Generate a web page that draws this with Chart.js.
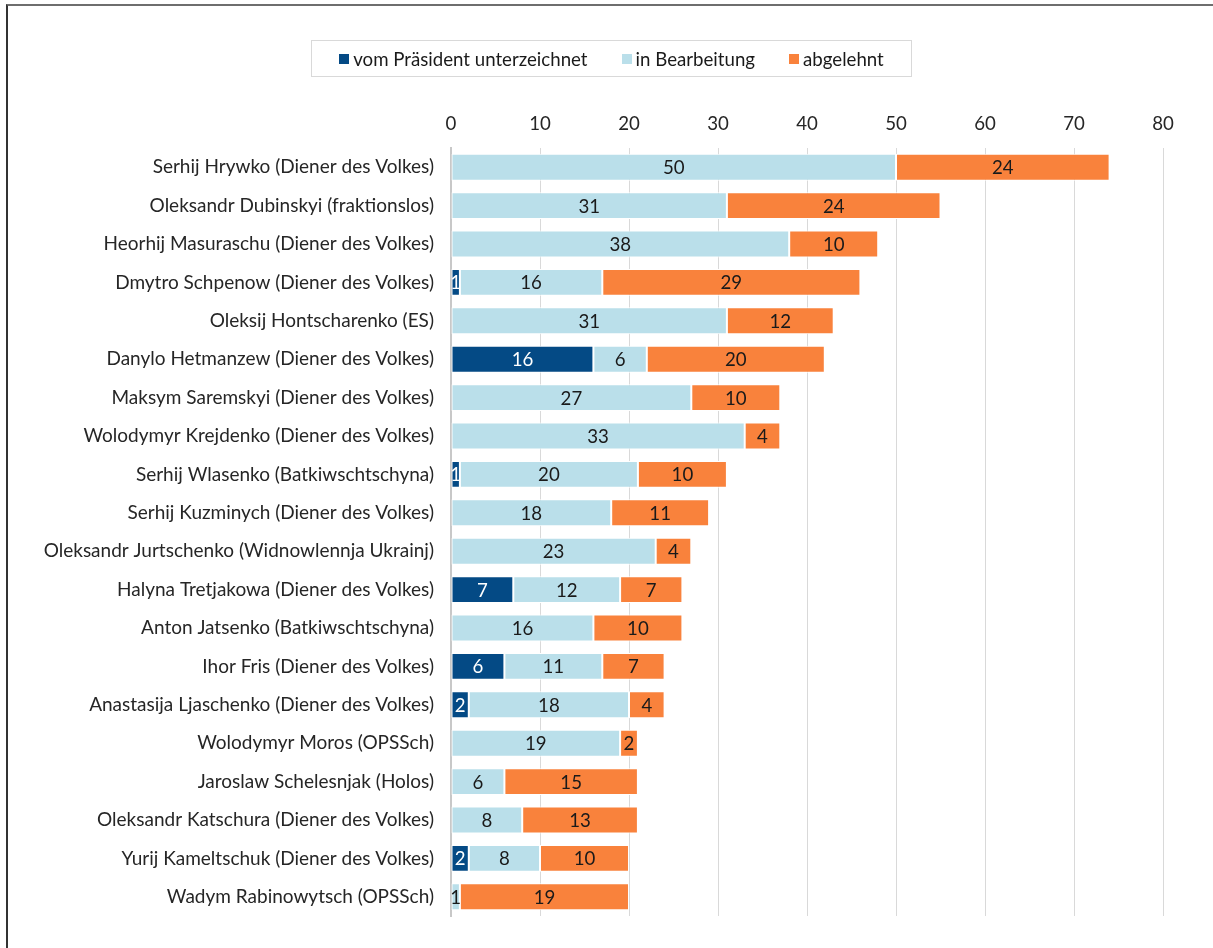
<!DOCTYPE html>
<html>
<head>
<meta charset="utf-8">
<script src="https://cdn.jsdelivr.net/npm/chart.js@4/dist/chart.umd.min.js"></script>
<style>
  html, body { margin: 0; padding: 0; background: #fff; }
  #wrap { position: relative; width: 1213px; height: 948px; }
  #frame { position: absolute; left: 6px; top: 4px; right: -10px; bottom: -10px;
           border-top: 2px solid #6e6e6e; border-left: 2px solid #333; pointer-events: none; }
  #legend { position: absolute; left: 311px; top: 40px; width: 599px; height: 35px;
            border: 1px solid #d9d9d9; display: flex; align-items: center; justify-content: center;
            font-family: Lato, sans-serif; font-size: 18.67px; color: #1a1a1a; }
  .item { display: flex; align-items: center; margin: 0 17px; }
  .sw { width: 10px; height: 10px; margin-right: 4px; }
</style>
</head>
<body>
<div id="wrap">
  <canvas id="c" width="1213" height="948"></canvas>
  <div id="legend"></div>
  <div id="frame"></div>
</div>
<script>
const categories = [
  "Serhij Hrywko (Diener des Volkes)",
  "Oleksandr Dubinskyi (fraktionslos)",
  "Heorhij Masuraschu (Diener des Volkes)",
  "Dmytro Schpenow (Diener des Volkes)",
  "Oleksij Hontscharenko (ES)",
  "Danylo Hetmanzew (Diener des Volkes)",
  "Maksym Saremskyi (Diener des Volkes)",
  "Wolodymyr Krejdenko (Diener des Volkes)",
  "Serhij Wlasenko (Batkiwschtschyna)",
  "Serhij Kuzminych (Diener des Volkes)",
  "Oleksandr Jurtschenko (Widnowlennja Ukrainj)",
  "Halyna Tretjakowa (Diener des Volkes)",
  "Anton Jatsenko (Batkiwschtschyna)",
  "Ihor Fris (Diener des Volkes)",
  "Anastasija Ljaschenko (Diener des Volkes)",
  "Wolodymyr Moros (OPSSch)",
  "Jaroslaw Schelesnjak (Holos)",
  "Oleksandr Katschura (Diener des Volkes)",
  "Yurij Kameltschuk (Diener des Volkes)",
  "Wadym Rabinowytsch (OPSSch)"
];
const signed     = [0, 0, 0, 1, 0, 16, 0, 0, 1, 0, 0, 7, 0, 6, 2, 0, 0, 0, 2, 0];
const inProgress = [50, 31, 38, 16, 31, 6, 27, 33, 20, 18, 23, 12, 16, 11, 18, 19, 6, 8, 8, 1];
const rejected   = [24, 24, 10, 29, 12, 20, 10, 4, 10, 11, 4, 7, 10, 7, 4, 2, 15, 13, 10, 19];
const seriesNames = ["vom Präsident unterzeichnet", "in Bearbeitung", "abgelehnt"];
const xTicks = [0, 10, 20, 30, 40, 50, 60, 70, 80];

const colors = ["#044a85", "#badfea", "#f9823c"];
const labelColors = ["#ffffff", "#1a1a1a", "#1a1a1a"];
const FONT = "Lato, sans-serif";
const FS = 18.67;

const legendEl = document.getElementById('legend');
seriesNames.forEach((n, i) => {
  const it = document.createElement('div');
  it.className = 'item';
  it.innerHTML = '<span class="sw" style="background:' + colors[i] + '"></span><span>' + n + '</span>';
  legendEl.appendChild(it);
});

const valueLabels = {
  id: 'valueLabels',
  afterDatasetsDraw(chart) {
    const ctx = chart.ctx;
    ctx.save();
    ctx.font = FS + 'px ' + FONT;
    ctx.textAlign = 'center';
    ctx.textBaseline = 'middle';
    chart.data.datasets.forEach((ds, di) => {
      const meta = chart.getDatasetMeta(di);
      meta.data.forEach((el, i) => {
        const v = ds.data[i];
        if (!v) return;
        ctx.fillStyle = labelColors[di];
        ctx.fillText(String(v), (el.x + el.base) / 2, el.y + 1);
      });
    });
    ctx.restore();
  }
};

new Chart(document.getElementById('c'), {
  type: 'bar',
  data: {
    labels: categories,
    datasets: [
      { label: seriesNames[0], data: signed, backgroundColor: colors[0] },
      { label: seriesNames[1], data: inProgress, backgroundColor: colors[1] },
      { label: seriesNames[2], data: rejected, backgroundColor: colors[2] }
    ].map(d => Object.assign(d, { borderColor: '#ffffff', borderWidth: 1, borderSkipped: false,
                                  categoryPercentage: 1, barPercentage: 0.7 }))
  },
  options: {
    indexAxis: 'y',
    responsive: false,
    animation: false,
    layout: { padding: { left: 0, right: 50, top: 90, bottom: 32 } },
    plugins: { legend: { display: false }, tooltip: { enabled: false } },
    scales: {
      x: {
        position: 'top',
        stacked: true,
        min: 0, max: 80,
        afterBuildTicks(scale) { scale.ticks = xTicks.map(v => ({ value: v })); },
        afterFit(scale) { scale.height = 58; },
        ticks: { font: { family: FONT, size: FS }, color: '#262626', padding: 13 },
        grid: { color: '#d9d9d9', lineWidth: 1, drawTicks: false },
        border: { display: false }
      },
      y: {
        stacked: true,
        afterFit(scale) { scale.width = 451; },
        ticks: { font: { family: FONT, size: 19 }, color: '#262626', padding: 9 },
        grid: { display: false },
        border: { color: '#c8c8c8', width: 2 }
      }
    }
  },
  plugins: [valueLabels]
});
</script>
</body>
</html>
